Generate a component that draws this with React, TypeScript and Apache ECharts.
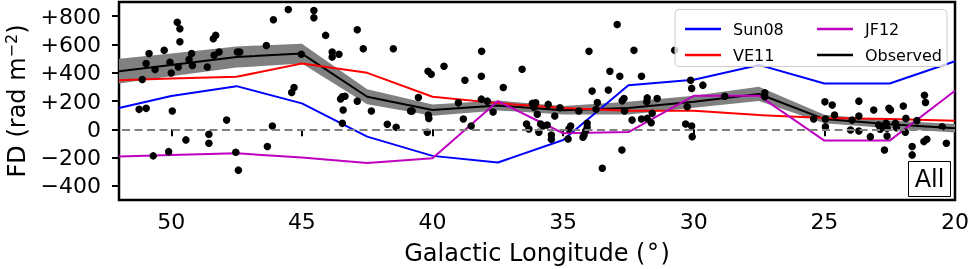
import React, { useEffect, useRef } from 'react';
import * as echarts from 'echarts';

const FONT = 'DejaVu Sans';

// Galactic longitudes (deg) of the model / observed curves
const modelLongitudes = [52, 50, 47.5, 45, 42.5, 40, 37.5, 35, 32.5, 30, 27.5, 25, 22.5, 20];
const sun08 = [150, 236, 305, 183, -52, -188, -235, -76, 312, 350, 455, 324, 324, 481];
const ve11 = [347, 359, 371, 465, 399, 230, 185, 150, 131, 131, 101, 80, 73, 61];
const jf12 = [-193, -181, -170, -200, -239, -204, 199, -28, -20, 237, 237, -80, -80, 272];
const observed = [411, 455, 511, 535, 230, 136, 168, 135, 150, 195, 250, 72, 35, 7];
const observedErr = [88, 80, 75, 70, 53, 40, 35, 30, 45, 42, 50, 30, 28, 30];

// individual sources: [longitude, FD]
const sources: [number, number][] = [
  [49.77, 757], [49.67, 711], [49.67, 619], [48.3, 664], [48.39, 640], [50.85, 535], [50.27, 558],
  [50.96, 465], [50.62, 422], [50.05, 474], [50.0, 398], [49.73, 441], [51.11, 352], [49.22, 535],
  [49.32, 493], [49.19, 451], [48.62, 441], [48.36, 523], [48.17, 546], [51.23, 141], [50.96, 148],
  [49.96, 129], [49.44, -75], [48.56, -35], [48.56, -99], [50.1, -158], [50.69, -188],
  [45.52, 847], [46.09, 774], [44.54, 840], [44.54, 788], [44.09, 664], [46.36, 593], [47.47, 546],
  [47.38, 546], [45.02, 530], [45.3, 296], [45.39, 260], [47.88, 65], [46.13, 23], [46.32, -122],
  [47.53, -162], [47.43, -289],
  [42.88, 704], [42.65, 570], [41.5, 570], [43.84, 546], [43.84, 511], [43.58, 530], [40.17, 410],
  [40.05, 389], [43.45, 230], [43.35, 234], [43.52, 215], [42.88, 199], [43.42, 136], [42.34, 129],
  [40.54, 225], [40.84, 129], [40.78, 129], [40.16, 101], [40.14, 77], [43.45, 42], [41.73, 35],
  [41.39, 14], [40.2, -21],
  [38.12, 551], [39.56, 446], [38.76, 347], [38.13, 375], [36.57, 424], [37.29, 296], [39.01, 187],
  [38.13, 213], [37.9, 199], [37.68, 122], [38.82, 73], [38.52, 23], [36.18, 183], [36.05, 187],
  [36.12, 155], [35.99, 106], [36.4, 37], [36.31, 2], [35.93, -21],
  [32.93, 741], [34.01, 551], [32.29, 558], [33.21, 410], [32.83, 375], [32.0, 375], [33.89, 270],
  [33.27, 277], [33.69, 190], [32.74, 201], [32.67, 218], [35.57, 176], [35.12, 152], [34.4, 129],
  [33.74, 141], [32.65, 129], [35.32, 94], [35.86, 37], [35.61, 30], [35.77, 23], [34.71, 23],
  [34.78, 2], [34.08, 42], [34.08, 14], [34.14, -12], [34.2, -40], [34.24, -56], [35.45, -40],
  [35.45, -70], [34.81, -68], [32.36, 65], [32.0, 73], [32.75, -146], [33.5, -275],
  [30.73, 558], [30.12, 347], [30.08, 289], [29.65, 312], [31.78, 222], [31.4, 218], [31.8, 194],
  [28.81, 234], [30.25, 159], [31.59, 113], [31.78, 77], [31.63, 46], [30.31, 37], [30.08, 23],
  [30.06, -52],
  [27.28, 258], [27.28, 230], [24.98, 194], [24.7, 171], [24.61, 101], [25.41, 73], [24.96, 73],
  [24.96, 18], [23.94, 65], [24.0, -5],
  [23.68, 199], [23.11, 136], [22.53, 148], [22.47, 136], [21.98, 164], [21.17, 241], [21.13, 190],
  [23.68, 94], [21.88, 77], [21.46, 61], [22.92, 30], [22.79, 18], [22.64, 42], [22.6, 7],
  [22.86, 0], [22.28, 42], [22.24, 11], [23.68, -12], [23.24, -52], [22.6, -47], [21.9, -21],
  [20.49, 18], [21.19, -87], [21.08, -70], [22.7, -146], [21.64, -122], [21.64, -181], [20.33, -99],
];

const xTicks = [20, 25, 30, 35, 40, 45, 50];
const yTicks = [-400, -200, 0, 200, 400, 600, 800];
const xRange = [20, 52];
const yRange = [-500, 900];

const pair = (ys: number[]) => modelLongitudes.map((x, i) => [x, ys[i]]);

export default function App() {
  const ref = useRef<HTMLDivElement>(null);
  useEffect(() => {
    if (!ref.current) return;
    const chart = echarts.init(ref.current, undefined, { renderer: 'svg' });
    const upper = observed.map((v, i) => v + observedErr[i]);
    const lower = observed.map((v, i) => v - observedErr[i]);
    const legendCommon = {
      orient: 'vertical' as const,
      top: 16,
      itemWidth: 36,
      itemHeight: 2.5,
      itemGap: 10,
      icon: 'rect',
      z: 110,
      textStyle: { fontSize: 16, fontFamily: FONT, color: '#000', lineHeight: 16, padding: [0, 0, 0, 7] },
    };
    chart.setOption({
      animation: false,
      textStyle: { fontFamily: FONT },
      grid: {
        left: 119, right: 15, top: 2, bottom: 69,
        outerBoundsMode: 'none', containLabel: false,
        show: true, borderColor: '#000', borderWidth: 2.5, backgroundColor: 'transparent',
      },
      xAxis: {
        type: 'value', min: xRange[0], max: xRange[1], inverse: true,
        axisLine: { show: false },
        splitLine: { show: false },
        axisTick: { show: true, customValues: xTicks, length: 7, lineStyle: { color: '#000', width: 2 } },
        axisLabel: { customValues: xTicks, fontSize: 22, color: '#000', margin: 10, fontFamily: FONT },
        name: 'Galactic Longitude ({deg|°})',
        nameLocation: 'middle', nameGap: 41,
        nameTextStyle: {
          fontSize: 24, color: '#000', fontFamily: FONT,
          rich: { deg: { fontSize: 24, fontFamily: FONT, color: '#000', padding: [0, 1.5, 0, 1.5] } },
        },
      },
      yAxis: {
        type: 'value', min: yRange[0], max: yRange[1],
        axisLine: { show: false },
        splitLine: { show: false },
        axisTick: { show: true, customValues: yTicks, length: 7, lineStyle: { color: '#000', width: 2 } },
        axisLabel: {
          customValues: yTicks, fontSize: 22, color: '#000', margin: 18, fontFamily: FONT,
          formatter: (v: number) => (v > 0 ? '+' + v : v < 0 ? '\u2212' + Math.abs(v) : '0'),
        },
        name: 'FD (rad m{sup|\u22122})',
        nameLocation: 'middle', nameRotate: 90, nameGap: 87,
        nameTextStyle: {
          fontSize: 24, color: '#000', fontFamily: FONT, lineHeight: 26,
          rich: { sup: { fontSize: 16, fontFamily: FONT, color: '#000', lineHeight: 16, verticalAlign: 'top' } },
        },
      },
      legend: [
        { ...legendCommon, left: 680, data: ['Sun08', 'VE11'] },
        { ...legendCommon, left: 812, data: ['JF12', 'Observed'] },
      ],
      graphic: {
        elements: [
          {
            type: 'rect', z: 100, silent: true,
            shape: { x: 675, y: 9.5, width: 272, height: 57, r: 4 },
            style: { fill: 'rgba(255,255,255,0.8)', stroke: '#cccccc', lineWidth: 1 },
          },
          {
            type: 'rect', z: 100, silent: true,
            shape: { x: 908.5, y: 161.5, width: 42, height: 35 },
            style: { fill: '#fff', stroke: '#000', lineWidth: 1 },
          },
          {
            type: 'text', z: 101, silent: true, x: 929.5, y: 179,
            style: { text: 'All', fontSize: 24, fontFamily: FONT, fill: '#000', align: 'center', verticalAlign: 'middle' },
          },
        ],
      },
      series: [
        {
          name: 'band', type: 'custom', z: 1, silent: true,
          data: pair(observed),
          renderItem: (params: any, api: any) => {
            if (params.dataIndex !== 0) return null;
            const top = modelLongitudes.map((x, i) => api.coord([x, upper[i]]));
            const bot = modelLongitudes.map((x, i) => api.coord([x, lower[i]])).reverse();
            return { type: 'polygon', shape: { points: top.concat(bot) }, style: { fill: '#808080' } };
          },
        },
        {
          name: 'zero', type: 'line', data: [], z: 1, silent: true,
          markLine: {
            silent: true, symbol: ['none', 'none'], label: { show: false },
            lineStyle: { type: [8, 4.5], color: '#808080', width: 2 },
            emphasis: { disabled: true },
            data: [{ yAxis: 0 }],
          },
        },
        { name: 'Observed', type: 'line', data: pair(observed), symbol: 'none', z: 2, lineStyle: { color: '#000', width: 2 }, itemStyle: { color: '#000' } },
        { name: 'Sun08', type: 'line', data: pair(sun08), symbol: 'none', z: 2, lineStyle: { color: '#0000ff', width: 2 }, itemStyle: { color: '#0000ff' } },
        { name: 'VE11', type: 'line', data: pair(ve11), symbol: 'none', z: 2, lineStyle: { color: '#ff0000', width: 2 }, itemStyle: { color: '#ff0000' } },
        { name: 'JF12', type: 'line', data: pair(jf12), symbol: 'none', z: 2, lineStyle: { color: '#bf00bf', width: 2 }, itemStyle: { color: '#bf00bf' } },
        { name: 'sources', type: 'scatter', data: sources, symbolSize: 7.5, z: 3, itemStyle: { color: '#000', opacity: 1 } },
      ],
    });
    return () => chart.dispose();
  }, []);
  return <div ref={ref} style={{ position: 'fixed', left: 0, top: 0, width: 970, height: 269 }} />;
}
